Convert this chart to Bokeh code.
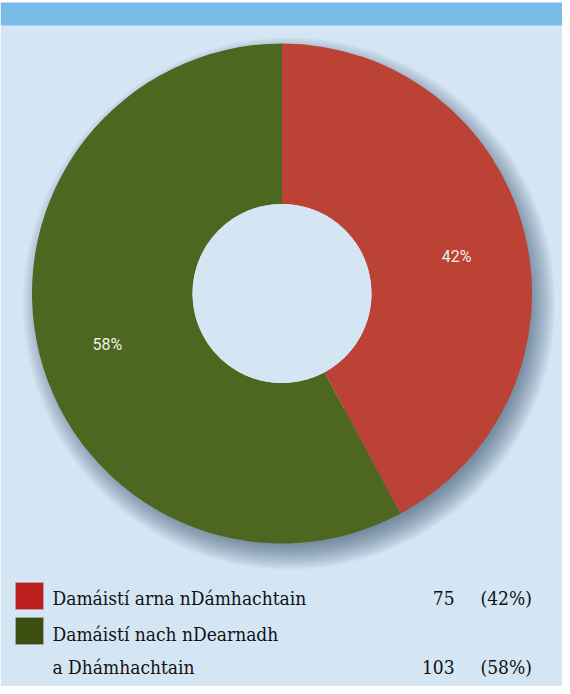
import numpy as np
from bokeh.plotting import figure
from bokeh.models import Range1d
from bokeh.core.properties import value
from bokeh.embed import file_html
from bokeh.resources import INLINE

# ---- data ----
categories = ["Damáistí arna nDámhachtain", "Damáistí nach nDearnadh a Dhámhachtain"]
legend_lines = [["Damáistí arna nDámhachtain"], ["Damáistí nach nDearnadh", "a Dhámhachtain"]]
counts = [75, 103]
pct_labels = ["42%", "58%"]
slice_colors = ["#bb4234", "#4d6620"]
legend_colors = ["#bd1e1e", "#3c4f10"]

W, H = 562, 686
p = figure(width=W, height=H, output_backend="svg", toolbar_location=None,
           x_range=Range1d(0, W), y_range=Range1d(0, H), min_border=0)
p.axis.visible = False
p.grid.visible = False
p.outline_line_color = None
p.background_fill_color = "white"
p.border_fill_color = "white"

def Y(py):  # page y -> data y
    return 694 - py
def X(px):
    return px - 8

# panel & header bar
p.quad(left=[0], right=[W], bottom=[0], top=[Y(33)], fill_color="#d4e5f4", line_color=None)
p.quad(left=[0], right=[W], bottom=[Y(33)], top=[Y(10)], fill_color="#79bbe7", line_color=None)

cx, cy = X(289.5), Y(301)
r_out, r_in = 250, 89.5

# soft drop shadow (offset to lower right)
for k in range(18):
    p.annular_wedge(x=[cx + 7], y=[cy - 10], inner_radius=r_in + 30, outer_radius=r_out + 16 - k * 1.5,
                    start_angle=0, end_angle=2 * np.pi, fill_color="#26364e", fill_alpha=0.037,
                    line_color=None)

# donut slices
total = float(sum(counts))
fr = np.array(counts) / total
ends = np.pi / 2 - 2 * np.pi * np.cumsum(fr)
starts = np.concatenate([[np.pi / 2], ends[:-1]])
p.annular_wedge(x=cx, y=cy, inner_radius=r_in, outer_radius=r_out,
                start_angle=list(starts), end_angle=list(ends), direction="clock",
                fill_color=slice_colors, line_color=None)
p.circle(x=[cx], y=[cy], radius=r_in, fill_color="#d4e5f4", line_color=None)

mids = (starts + ends) / 2
lr = 180
p.text(x=list(cx + lr * np.cos(mids)), y=list(cy + lr * np.sin(mids) - 7), text=pct_labels,
       text_font=value("Roboto"), text_font_size="16px", text_color="#f0f0e6",
       text_align="center", text_baseline="middle")

# legend
sq_tops = [590, 625]
for i in range(len(categories)):
    p.quad(left=[X(23)], right=[X(51)], top=[Y(sq_tops[i])], bottom=[Y(sq_tops[i] + 27)],
           fill_color=legend_colors[i], line_color="#a8b4c0", line_width=0.5)

centers = [[605], [641], [674]]
centers = [[605], [641, 674]]
serif = value("DejaVu Serif Condensed")
fs = "19px"
for i, lines in enumerate(legend_lines):
    for j, t in enumerate(lines):
        p.text(x=[X(60)], y=[Y(centers[i][j])], text=[t], text_font=serif,
               text_font_size=fs, text_color="#111111", text_baseline="middle")
    last = centers[i][-1]
    p.text(x=[X(462)], y=[Y(last)], text=[str(counts[i])], text_font=serif,
           text_font_size=fs, text_color="#111111", text_align="right", text_baseline="middle")
    p.text(x=[X(488)], y=[Y(last)], text=["(" + pct_labels[i] + ")"], text_font=serif,
           text_font_size=fs, text_color="#111111", text_baseline="middle")

open("out.html", "w").write(file_html(p, INLINE))
